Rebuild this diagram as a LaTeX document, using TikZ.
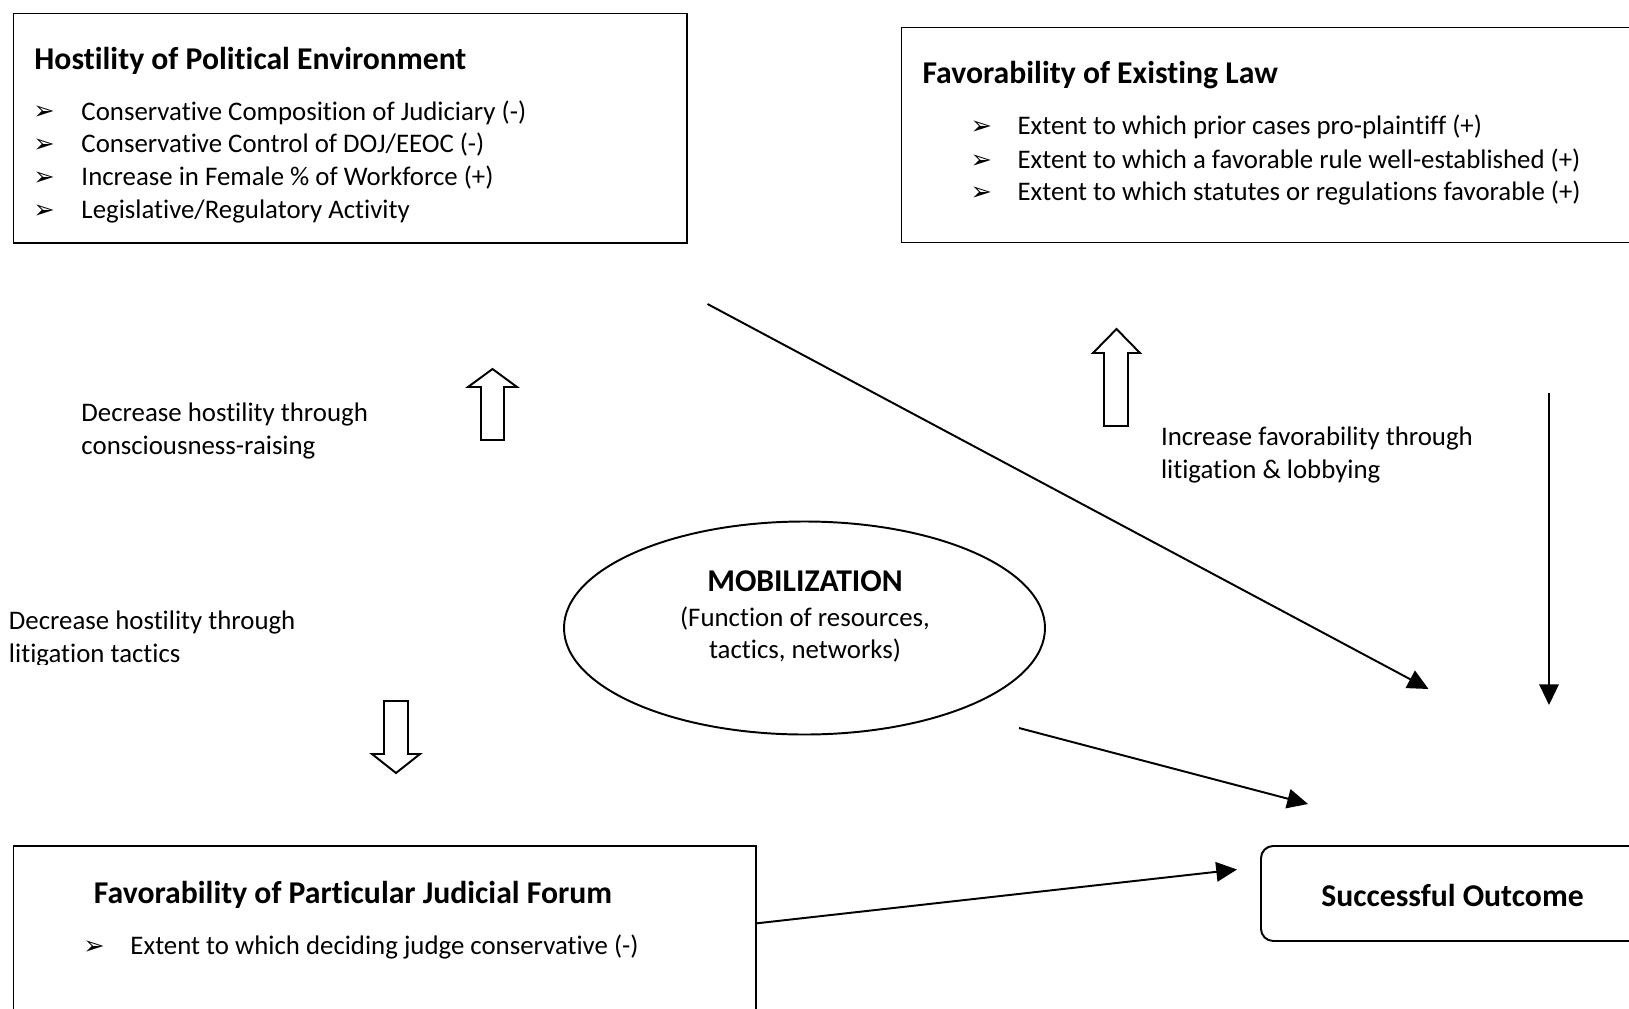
\documentclass[tikz,border=0pt]{standalone}
\usepackage{fontspec}
\setmainfont{Carlito}[Ligatures=NoCommon]
\newfontfamily\bulletfont{DejaVu Sans}
\usetikzlibrary{arrows.meta,shapes.geometric}

\def\px{0.41pt}
\tikzset{
	factorbox/.style={draw, line width=0.8pt, anchor=north west, inner sep=0pt},
	boxtitle/.style={anchor=mid west, inner sep=0pt, font=\fontsize{13}{15}\selectfont\bfseries},
	plaintext/.style={anchor=mid west, inner sep=0pt, font=\fontsize{11}{13.4}\selectfont},
	bullet/.style={anchor=mid west, inner sep=0pt, font=\fontsize{10.5}{12}\selectfont\bulletfont},
	link/.style={line width=0.8pt, -{Triangle[width=8pt,length=8.5pt]}},
	fatarrow/.style={draw, line width=0.8pt, line join=miter, fill=white},
}

\begin{document}
\begin{tikzpicture}[x=0.41pt, y=-0.41pt]

	\useasboundingbox (0,0) rectangle (1629,1008);

	%BOX: HOSTILITY
	\node[factorbox, minimum width=673.5*\px, minimum height=229.5*\px] (hostility) at (12.5,12.5) {};
	\node[boxtitle] (hostilityT) at (34,64) {Hostility of Political Environment};
	\node[bullet] (hb1) at (33,114) {➢};
	\node[bullet] (hb2) at (33,147) {➢};
	\node[bullet] (hb3) at (33,180) {➢};
	\node[bullet] (hb4) at (33,212.5) {➢};
	\node[plaintext] (h1) at (81,114.5) {Conservative Composition of Judiciary (-)};
	\node[plaintext] (h2) at (81,147) {Conservative Control of DOJ/EEOC (-)};
	\node[plaintext] (h3) at (81,180) {Increase in Female \% of Workforce (+)};
	\node[plaintext] (h4) at (81,212.5) {Legislative/Regulatory Activity};

	%BOX: EXISTING LAW
	\node[factorbox, minimum width=760*\px, minimum height=215*\px] (law) at (900.5,26.5) {};
	\node[boxtitle] (lawT) at (922,78) {Favorability of Existing Law};
	\node[bullet] (lb1) at (970,129) {➢};
	\node[bullet] (lb2) at (970,162.5) {➢};
	\node[bullet] (lb3) at (970,194.5) {➢};
	\node[plaintext] (l1) at (1017,129) {Extent to which prior cases pro-plaintiff (+)};
	\node[plaintext] (l2) at (1017,162.5) {Extent to which a favorable rule well-established (+)};
	\node[plaintext] (l3) at (1017,194.5) {Extent to which statutes or regulations favorable (+)};

	%MOBILIZATION
	\node[draw, ellipse, line width=0.8pt, minimum width=481*\px, minimum height=213*\px] (mob) at (804.5,628) {};
	\node[boxtitle, anchor=mid] (mobT) at (805,586) {MOBILIZATION};
	\node[plaintext, anchor=mid] (mob1) at (805,621) {(Function of resources,};
	\node[plaintext, anchor=mid] (mob2) at (805,653) {tactics, networks)};

	%BOX: JUDICIAL FORUM
	\node[factorbox, minimum width=742.5*\px, minimum height=200*\px] (forum) at (12.5,845) {};
	\node[boxtitle] (forumT) at (93.5,897.5) {Favorability of Particular Judicial Forum};
	\node[bullet] (fb1) at (83,949) {➢};
	\node[plaintext] (f1) at (130,949) {Extent to which deciding judge conservative (-)};

	%BOX: OUTCOME
	\node[factorbox, rounded corners=5pt, minimum width=400*\px, minimum height=95*\px] (outcome) at (1260,845) {};
	\node[boxtitle, anchor=mid] (outcomeT) at (1452.5,900.5) {Successful Outcome};

	%LABELS
	\node[plaintext] (cr1) at (81,416) {Decrease hostility through};
	\node[plaintext] (cr2) at (81,449) {consciousness-raising};
	\node[plaintext] (lt1) at (8.5,624) {Decrease hostility through};
	\begin{scope}
		\clip (0,0) rectangle (400,664);
		\node[plaintext] (lt2) at (8.5,657) {litigation tactics};
	\end{scope}
	\node[plaintext] (fl1) at (1160.5,440) {Increase favorability through};
	\node[plaintext] (fl2) at (1160.5,473) {litigation \& lobbying};

	%FAT ARROWS
	\draw[fatarrow] (481,440) -- (481,387) -- (468,387) -- (492.5,369) -- (517,387) -- (504,387) -- (504,440) -- cycle;
	\draw[fatarrow] (1104,426) -- (1104,353) -- (1093,353) -- (1116.5,329) -- (1140,353) -- (1128,353) -- (1128,426) -- cycle;
	\draw[fatarrow] (384,701) -- (384,754) -- (372,754) -- (396,773) -- (420,754) -- (408,754) -- (408,701) -- cycle;

	%CONNECTORS
	\coordinate (diagS) at (707.5,304);
	\coordinate (diagE) at (1428.5,689);
	\coordinate (vertS) at (1549,393);
	\coordinate (vertE) at (1549,705);
	\coordinate (mobS) at (1019,728);
	\coordinate (mobE) at (1308,804);
	\coordinate (forumS) at (755,923.5);
	\coordinate (forumE) at (1237,869.5);
	\draw[link] (diagS) -- (diagE);
	\draw[link] (vertS) -- (vertE);
	\draw[link] (mobS) -- (mobE);
	\draw[link] (forumS) -- (forumE);

\end{tikzpicture}
\end{document}
